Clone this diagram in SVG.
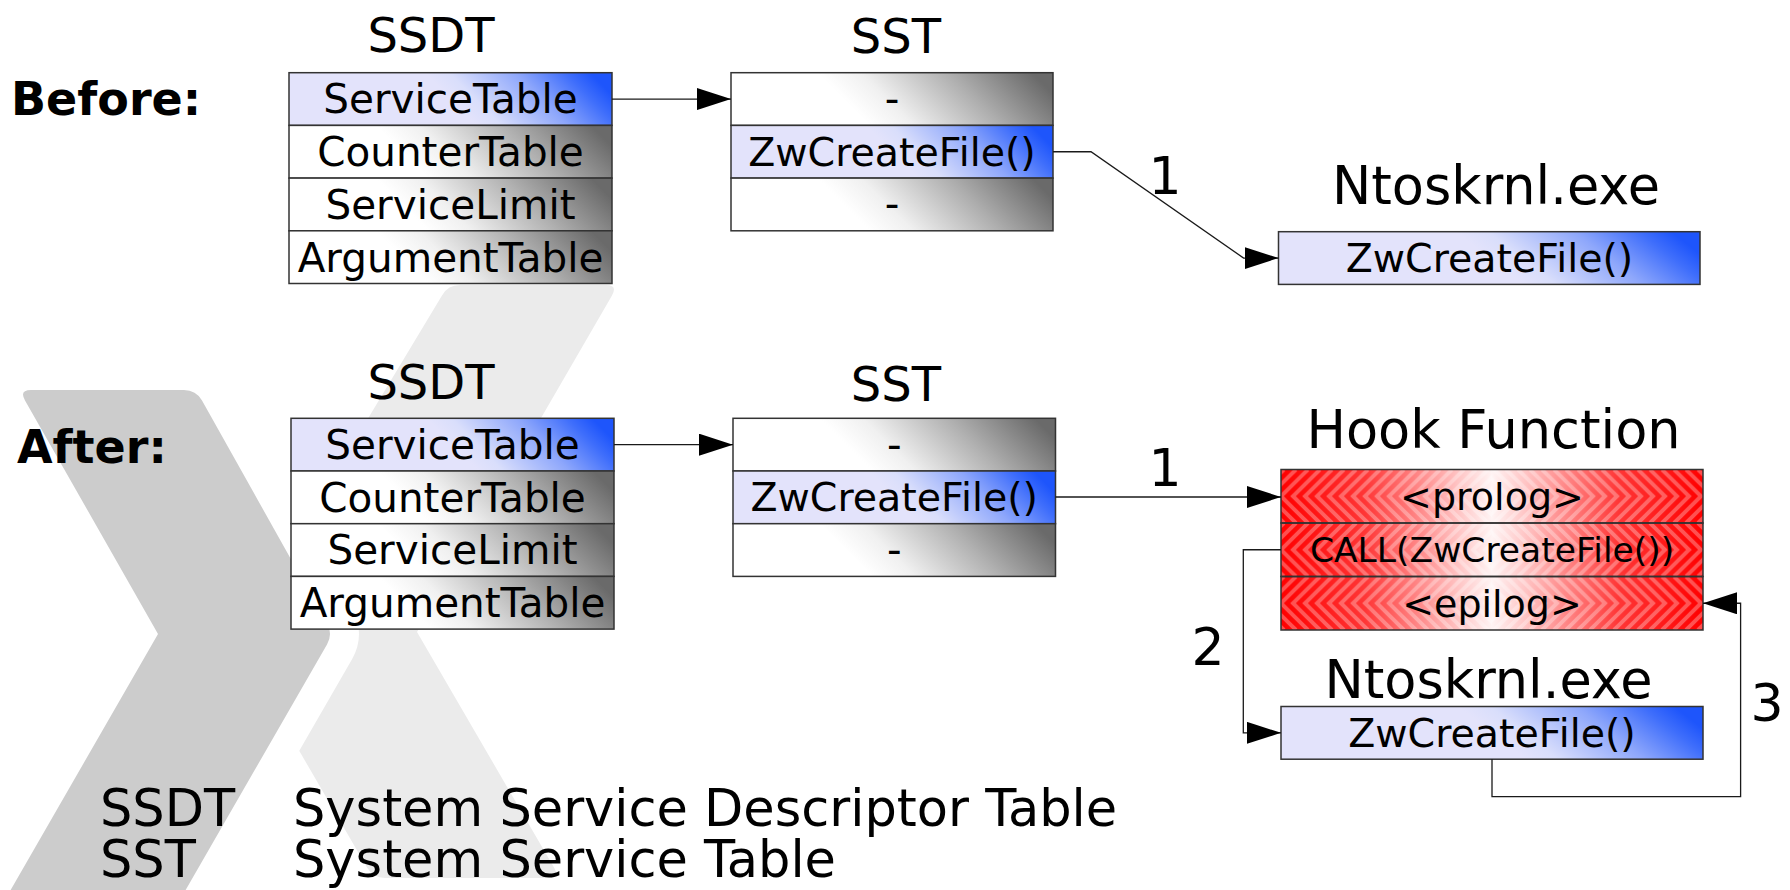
<svg xmlns="http://www.w3.org/2000/svg" width="1790" height="890" viewBox="0 0 1790 890">
  <style>
    text { font-family: "DejaVu Sans", "Liberation Sans", sans-serif; fill: #000; }
    .lbl { font-size: 48px; text-anchor: middle; }
    .big { font-size: 52.5px; text-anchor: middle; }
    .row { font-size: 40.5px; text-anchor: middle; }
    .fn { font-size: 39.5px; text-anchor: middle; }
    .tag { font-size: 38px; text-anchor: middle; }
    .call { font-size: 34.5px; text-anchor: middle; }
    .num { font-size: 52px; text-anchor: middle; }
    .leg { font-size: 51px; }
    .head { font-size: 46px; font-weight: bold; }
    .cell { stroke: #333; stroke-width: 1.5; }
    .blue { fill: url(#gBlue); }
    .gray { fill: url(#gGray); }
    .red { fill: url(#gRed); }
    .chevL { fill: url(#pChevL); stroke: none; }
    .chevR { fill: url(#pChevR); stroke: none; }
    .wire { fill: none; stroke: #1a1a1a; stroke-width: 1.3; marker-end: url(#head); }
  </style>
  <defs>
    <marker id="head" markerWidth="34" markerHeight="22" refX="34" refY="11" orient="auto" markerUnits="userSpaceOnUse">
      <path d="M0,0 L34,11 L0,22 Z" fill="#000"/>
    </marker>
    <!-- diagonal fills: flat on the left, shading to the top-right corner -->
    <linearGradient id="gBlue" x1="0.5" y1="0.5" x2="1" y2="0.42">
      <stop offset="0" stop-color="#e3e3fb"/>
      <stop offset="0.15" stop-color="#d9defb"/>
      <stop offset="0.55" stop-color="#8ea7fb"/>
      <stop offset="0.85" stop-color="#3f6efb"/>
      <stop offset="1" stop-color="#1e55fb"/>
    </linearGradient>
    <linearGradient id="gGray" x1="0.35" y1="0.5" x2="1" y2="0.394">
      <stop offset="0" stop-color="#ffffff"/>
      <stop offset="0.2" stop-color="#f0f0f0"/>
      <stop offset="0.6" stop-color="#b0b0b0"/>
      <stop offset="1" stop-color="#6a6a6a"/>
    </linearGradient>
    <linearGradient id="gRed" x1="0" y1="0" x2="1" y2="0">
      <stop offset="0" stop-color="#ff0000"/>
      <stop offset="0.2" stop-color="#ff3636"/>
      <stop offset="0.42" stop-color="#ffc4c4"/>
      <stop offset="0.5" stop-color="#fff4f4"/>
      <stop offset="0.58" stop-color="#ffc4c4"/>
      <stop offset="0.8" stop-color="#ff3636"/>
      <stop offset="1" stop-color="#ff0000"/>
    </linearGradient>
    <!-- chevron stripes for the hook rows -->
    <pattern id="pChevL" patternUnits="userSpaceOnUse" width="12" height="53.5">
      <path d="M-9,0 L-36,26.75 L-9,53.5 M3,0 L-24,26.75 L3,53.5 M15,0 L-12,26.75 L15,53.5 M27,0 L0,26.75 L27,53.5 M39,0 L12,26.75 L39,53.5" fill="none" stroke="#fff" stroke-opacity="0.3" stroke-width="4"/>
    </pattern>
    <pattern id="pChevR" patternUnits="userSpaceOnUse" width="12" height="53.5">
      <path d="M21,0 L48,26.75 L21,53.5 M9,0 L36,26.75 L9,53.5 M-3,0 L24,26.75 L-3,53.5 M-15,0 L12,26.75 L-15,53.5 M-27,0 L0,26.75 L-27,53.5" fill="none" stroke="#fff" stroke-opacity="0.3" stroke-width="4"/>
    </pattern>
  </defs>

  <rect width="1790" height="890" fill="#fff"/>

  <!-- backdrop: two overlapping chevrons -->
  <g id="backdrop">
    <path fill="#ebebeb" d="M460,285 L606,285 Q618,285 612,295.4 L417,632 L554,867.6 Q560,878 548,878 L385,878 Q373,878 367,867.6 L241,650.4 Q235,640 241,629.6 L442,295.4 Q448,285 460,285 Z"/>
    <path fill="#cccccc" stroke="#fff" stroke-width="58" stroke-linejoin="round" paint-order="stroke" d="M31,390 L184,390 Q196,390 202,400.5 L327,623.5 Q333,634 327,644.5 L177,905 L2,905 L158,634 L25,400.4 Q19,390 31,390 Z"/>
  </g>

  <g id="captions">
    <text class="head" x="11" y="115">Before:</text>
    <text class="head" x="17" y="463">After:</text>
  </g>

  <!-- Before -->
  <g id="ssdt-before" transform="translate(289,72.7)">
    <text class="lbl" x="142" y="-20.7">SSDT</text>
    <rect class="cell blue" x="0" y="0" width="323" height="52.7"/>
    <rect class="cell gray" x="0" y="52.7" width="323" height="52.7"/>
    <rect class="cell gray" x="0" y="105.4" width="323" height="52.7"/>
    <rect class="cell gray" x="0" y="158.1" width="323" height="52.7"/>
    <text class="row" x="161.5" y="40.8">ServiceTable</text>
    <text class="row" x="161.5" y="93.5">CounterTable</text>
    <text class="row" x="161.5" y="146.2">ServiceLimit</text>
    <text class="row" x="161.5" y="198.9">ArgumentTable</text>
  </g>

  <g id="sst-before" transform="translate(731,72.7)">
    <text class="lbl" x="165" y="-19.7">SST</text>
    <rect class="cell gray" x="0" y="0" width="322" height="52.7"/>
    <rect class="cell blue" x="0" y="52.7" width="322" height="52.7"/>
    <rect class="cell gray" x="0" y="105.4" width="322" height="52.7"/>
    <text class="row" x="161" y="40.4">-</text>
    <text class="fn" x="161" y="93.2">ZwCreateFile()</text>
    <text class="row" x="161" y="145.8">-</text>
  </g>

  <g id="ntoskrnl-before" transform="translate(1278.5,231.7)">
    <text class="big" x="217.5" y="-27.7">Ntoskrnl.exe</text>
    <rect class="cell blue" x="0" y="0" width="421.5" height="52.7"/>
    <text class="fn" x="211" y="40.5">ZwCreateFile()</text>
  </g>

  <!-- After -->
  <g id="ssdt-after" transform="translate(291,418.3)">
    <text class="lbl" x="140" y="-19.3">SSDT</text>
    <rect class="cell blue" x="0" y="0" width="323" height="52.7"/>
    <rect class="cell gray" x="0" y="52.7" width="323" height="52.7"/>
    <rect class="cell gray" x="0" y="105.4" width="323" height="52.7"/>
    <rect class="cell gray" x="0" y="158.1" width="323" height="52.7"/>
    <text class="row" x="161.5" y="40.8">ServiceTable</text>
    <text class="row" x="161.5" y="93.5">CounterTable</text>
    <text class="row" x="161.5" y="146.2">ServiceLimit</text>
    <text class="row" x="161.5" y="198.9">ArgumentTable</text>
  </g>

  <g id="sst-after" transform="translate(733,418.3)">
    <text class="lbl" x="163" y="-17.3">SST</text>
    <rect class="cell gray" x="0" y="0" width="322.5" height="52.7"/>
    <rect class="cell blue" x="0" y="52.7" width="322.5" height="52.7"/>
    <rect class="cell gray" x="0" y="105.4" width="322.5" height="52.7"/>
    <text class="row" x="161.25" y="40.4">-</text>
    <text class="fn" x="161.25" y="93.2">ZwCreateFile()</text>
    <text class="row" x="161.25" y="145.8">-</text>
  </g>

  <g id="hook-function" transform="translate(1281,469.5)">
    <text class="big" x="212.5" y="-21.5">Hook Function</text>
    <rect class="red" x="0" y="0" width="422" height="160.5"/>
    <rect class="chevL" x="0" y="0" width="211" height="160.5"/>
    <rect class="chevR" x="211" y="0" width="211" height="160.5"/>
    <rect class="cell" fill="none" x="0" y="0" width="422" height="53.5"/>
    <rect class="cell" fill="none" x="0" y="53.5" width="422" height="53.5"/>
    <rect class="cell" fill="none" x="0" y="107" width="422" height="53.5"/>
    <text class="tag" x="211" y="40.8">&lt;prolog&gt;</text>
    <text class="call" x="211" y="92.6">CALL(ZwCreateFile())</text>
    <text class="tag" x="211" y="147.8">&lt;epilog&gt;</text>
  </g>

  <g id="ntoskrnl-after" transform="translate(1281,706.5)">
    <text class="big" x="207.5" y="-8.5">Ntoskrnl.exe</text>
    <rect class="cell blue" x="0" y="0" width="422" height="52.7"/>
    <text class="fn" x="211" y="40.5">ZwCreateFile()</text>
  </g>

  <!-- connectors -->
  <g id="connectors">
    <path class="wire" d="M612,99.05 H731"/>
    <path class="wire" d="M1053,151.75 H1091 L1243.6,258.05 H1278.5"/>
    <path class="wire" d="M614,444.65 H733"/>
    <path class="wire" d="M1055.5,497 H1281"/>
    <path class="wire" d="M1281,549.75 H1243.3 V732.85 H1281"/>
    <path class="wire" d="M1492,759.2 V796.7 H1740.6 V603.25 H1703"/>
    <text class="num" x="1165" y="194">1</text>
    <text class="num" x="1165" y="486">1</text>
    <text class="num" x="1208" y="665">2</text>
    <text class="num" x="1767" y="721">3</text>
  </g>

  <g id="legend">
    <text class="leg" x="100" y="826">SSDT</text>
    <text class="leg" x="293" y="826">System Service Descriptor Table</text>
    <text class="leg" x="100" y="876.5">SST</text>
    <text class="leg" x="293" y="876.5">System Service Table</text>
  </g>
</svg>
